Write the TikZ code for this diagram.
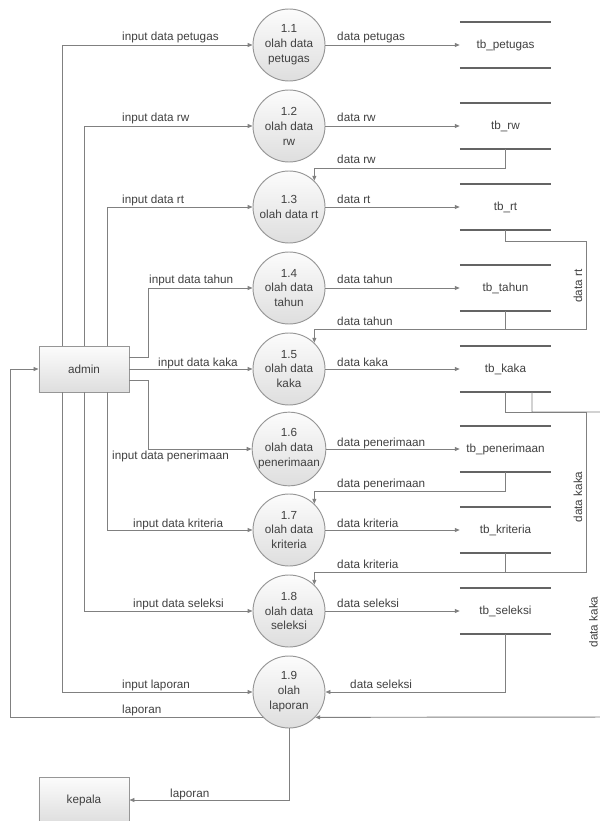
\documentclass[tikz,border=0pt]{standalone}
\usepackage{fontspec}
\setmainfont{Liberation Sans}
\usetikzlibrary{arrows.meta}
\definecolor{ln}{RGB}{128,128,128}
\definecolor{st}{RGB}{100,100,100}
\definecolor{tx}{RGB}{64,64,64}
\definecolor{bd}{RGB}{150,150,150}
\definecolor{gtop}{RGB}{252,252,252}
\definecolor{gbot}{RGB}{222,222,222}
\begin{document}
\begin{tikzpicture}[x=0.03cm,y=-0.03cm,
  font=\fontsize{10}{12.75}\selectfont, text=tx,
  proc/.style={circle, draw=bd, line width=0.8pt, top color=gtop, bottom color=gbot, minimum size=2.16cm, inner sep=0pt, align=center},
  ent/.style={rectangle, draw=bd, line width=0.8pt, top color=gtop, bottom color=gbot, minimum width=2.7cm, minimum height=1.38cm, inner sep=0pt},
  store/.style={rectangle, minimum width=2.73cm, minimum height=1.38cm, inner sep=0pt},
  flow/.style={draw=ln, line width=0.8pt, -{Triangle[length=1.5mm,width=1.2mm]}},
  link/.style={draw=ln, line width=0.8pt},
  sline/.style={draw=st, line width=2pt},
  lbl/.style={anchor=base west, inner sep=0pt},
  vlbl/.style={rotate=90, inner sep=0pt},
]
\useasboundingbox (0,0) rectangle (600,821);
\clip (0,0) rectangle (600,821);

% entities
\node[ent] (admin) at (84,369) {admin};
\node[ent] (kepala) at (84,800) {kepala};

% processes
\node[proc] (p1) at (289,45) {1.1\\olah data\\petugas};
\node[proc] (p2) at (289,126) {1.2\\olah data\\rw};
\node[proc] (p3) at (289,207) {1.3\\olah data rt};
\node[proc] (p4) at (289,288) {1.4\\olah data\\tahun};
\node[proc] (p5) at (289,369) {1.5\\olah data\\kaka};
\node[proc] (p6) at (289,449) {1.6\\olah data\\penerimaan};
\node[proc] (p7) at (289,530) {1.7\\olah data\\kriteria};
\node[proc] (p8) at (289,611) {1.8\\olah data\\seleksi};
\node[proc] (p9) at (289,692) {1.9\\olah\\laporan};

% data stores
\node[store] (s1) at (505.5,45) {tb\_petugas};
\node[store] (s2) at (505.5,126) {tb\_rw};
\node[store] (s3) at (505.5,207) {tb\_rt};
\node[store] (s4) at (505.5,288) {tb\_tahun};
\node[store] (s5) at (505.5,369) {tb\_kaka};
\node[store] (s6) at (505.5,449) {tb\_penerimaan};
\node[store] (s7) at (505.5,530) {tb\_kriteria};
\node[store] (s8) at (505.5,611) {tb\_seleksi};
\foreach \i in {1,...,8} {
  \draw[sline] (s\i.north west) -- (s\i.north east);
  \draw[sline] (s\i.south west) -- (s\i.south east);
}

% routing coordinates
\coordinate (c10) at (10,0);
\coordinate (c62) at (62,0);
\coordinate (c107) at (107,0);
\coordinate (c532) at (532,0);
\coordinate (c586) at (586,0);
\coordinate (c615) at (615,0);
\coordinate (r168) at (0,168);
\coordinate (r241) at (0,241);
\coordinate (r329) at (0,329);
\coordinate (r412) at (0,412);
\coordinate (r491) at (0,491);
\coordinate (r572) at (0,572);
\coordinate (r717) at (0,717);
\coordinate (ta) at (148,357);
\coordinate (tb) at (148,288);
\coordinate (pa) at (148,380);
\coordinate (pb) at (148,449);

% admin -> processes
\draw[flow] (admin.north -| c62) |- (p1);
\draw[flow] (admin.north) |- (p2);
\draw[flow] (admin.north -| c107) |- (p3);
\draw[flow] (admin.east |- ta) -- (ta) -- (tb) -- (p4);
\draw[flow] (admin) -- (p5);
\draw[flow] (admin.east |- pa) -- (pa) -- (pb) -- (p6);
\draw[flow] (admin.south -| c107) |- (p7);
\draw[flow] (admin.south) |- (p8);
\draw[flow] (admin.south -| c62) |- (p9);
\draw[flow] (p9.224) -- (p9.224 -| c10) |- (admin);
\draw[flow] (p9) |- (kepala);

% processes -> stores
\foreach \i in {1,...,8} { \draw[flow] (p\i) -- (s\i); }

% stores -> processes
\draw[flow] (s2.south) -- (s2.south |- r168) -| (p3.46);
\draw[flow] (s3.south) -- (s3.south |- r241) -- (r241 -| c586) -- (c586 |- r329) -| (p5.46);
\draw[link] (s4.south) -- (s4.south |- r329);
\draw[flow] (s5.south) -- (s5.south |- r412) -- (r412 -| c586) -- (c586 |- r572) -| (p8.46);
\draw[flow] (s5.south -| c532) -- (c532 |- r412) -- (r412 -| c615) -- (c615 |- r717) -- (p9.-44);
\draw[flow] (s6.south) -- (s6.south |- r491) -| (p7.46);
\draw[link] (s7.south) -- (s7.south |- r572);
\draw[flow] (s8.south) |- (p9);

% labels
\node[lbl] (la1) at (122,41) {input data petugas};
\node[lbl] (la2) at (122,122) {input data rw};
\node[lbl] (la3) at (122,203) {input data rt};
\node[lbl] (la4) at (149,283) {input data tahun};
\node[lbl] (la5) at (158,366) {input data kaka};
\node[lbl] (la6) at (112,459) {input data penerimaan};
\node[lbl] (la7) at (133,527) {input data kriteria};
\node[lbl] (la8) at (133,607) {input data seleksi};
\node[lbl] (la9) at (122,688) {input laporan};
\node[lbl] (la10) at (122,713) {laporan};
\node[lbl] (la11) at (170,797) {laporan};

\node[lbl] (lb1) at (337,41) {data petugas};
\node[lbl] (lb2) at (337,122) {data rw};
\node[lbl] (lb3) at (337,164) {data rw};
\node[lbl] (lb4) at (337,203) {data rt};
\node[lbl] (lb5) at (337,283) {data tahun};
\node[lbl] (lb6) at (337,325) {data tahun};
\node[lbl] (lb7) at (337,366) {data kaka};
\node[lbl] (lb8) at (337,446) {data penerimaan};
\node[lbl] (lb9) at (337,487) {data penerimaan};
\node[lbl] (lb10) at (337,527) {data kriteria};
\node[lbl] (lb11) at (337,568) {data kriteria};
\node[lbl] (lb12) at (337,607) {data seleksi};
\node[lbl] (lb13) at (350,688) {data seleksi};

\node[vlbl] (lv1) at (578,286) {data rt};
\node[vlbl] (lv2) at (578,497) {data kaka};
\node[vlbl] (lv3) at (593.5,622) {data kaka};
\end{tikzpicture}
\end{document}
